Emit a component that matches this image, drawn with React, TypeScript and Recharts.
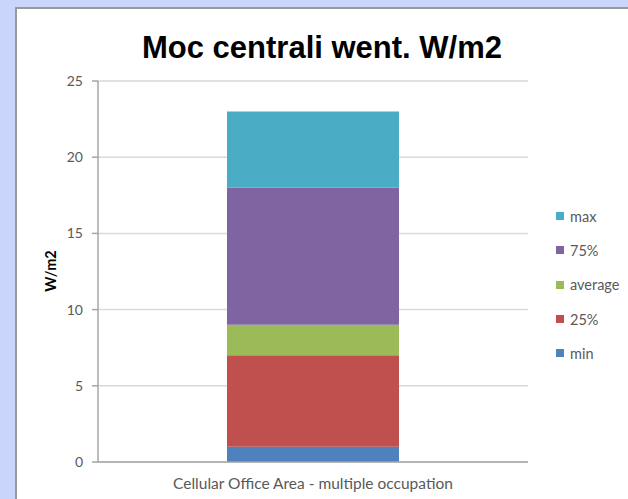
import React from 'react';
import { BarChart, Bar, XAxis, YAxis, CartesianGrid } from 'recharts';

const categories = ['Cellular Office Area - multiple occupation'];
const minValues = [1];
const p25Values = [6];
const averageValues = [2];
const p75Values = [9];
const maxValues = [5];
const yTicks = [0, 5, 10, 15, 20, 25];

const series = [
  { key: 'min', name: 'min', color: '#4F81BD', values: minValues },
  { key: 'p25', name: '25%', color: '#C0504D', values: p25Values },
  { key: 'average', name: 'average', color: '#9BBB59', values: averageValues },
  { key: 'p75', name: '75%', color: '#8064A2', values: p75Values },
  { key: 'max', name: 'max', color: '#4BACC6', values: maxValues },
];

const data = categories.map((c, i) => {
  const row: Record<string, string | number> = { category: c };
  series.forEach((s) => {
    row[s.key] = s.values[i];
  });
  return row;
});

const FONT = 'Lato, "Open Sans", sans-serif';

export default function App() {
  return (
    <div style={{ position: 'absolute', left: 0, top: 0, width: 628, height: 499, background: '#cad5fb', overflow: 'hidden' }}>
      <div
        style={{
          position: 'absolute',
          left: 15,
          top: 7,
          right: 0,
          bottom: 0,
          background: '#ffffff',
          borderLeft: '2px solid #9a9a9a',
          borderTop: '2px solid #9a9a9a',
        }}
      />
      <div
        style={{
          position: 'absolute',
          left: 16,
          width: 612,
          top: 30,
          textAlign: 'center',
          fontFamily: '"Liberation Sans", Arial, sans-serif',
          fontWeight: 'bold',
          fontSize: 31,
          color: '#000',
          lineHeight: '36px',
        }}
      >
        Moc centrali went. W/m2
      </div>
      <div
        style={{
          position: 'absolute',
          left: 50,
          top: 271,
          transform: 'translate(-50%, -50%) rotate(-90deg)',
          fontFamily: FONT,
          fontWeight: 'bold',
          fontSize: 14.5,
          color: '#000',
          whiteSpace: 'nowrap',
        }}
      >
        W/m2
      </div>
      <div style={{ position: 'absolute', left: 0, top: 0 }}>
        <BarChart
          width={628}
          height={499}
          data={data}
          margin={{ top: 81, right: 100, bottom: 0, left: 58 }}
          barCategoryGap="30%"
        >
          <CartesianGrid vertical={false} stroke="#d9d9d9" strokeWidth={1.5} />
          <XAxis
            dataKey="category"
            axisLine={{ stroke: '#a6a6a6', strokeWidth: 1.5 }}
            tickLine={false}
            tickSize={0}
            tickMargin={16}
            tick={{ fontFamily: FONT, fontSize: 15.5, fill: '#595959' }}
            height={37}
          />
          <YAxis
            width={40}
            domain={[0, 25]}
            ticks={yTicks}
            interval={0}
            axisLine={{ stroke: '#a6a6a6', strokeWidth: 1.5 }}
            tickLine={{ stroke: '#a6a6a6', strokeWidth: 1.5 }}
            tickSize={6}
            tickMargin={9}
            tick={{ fontFamily: FONT, fontSize: 14, fill: '#595959' }}
          />
          {series.map((s) => (
            <Bar key={s.key} dataKey={s.key} name={s.name} stackId="a" fill={s.color} isAnimationActive={false} />
          ))}
        </BarChart>
      </div>
      <div
        style={{
          position: 'absolute',
          left: 556,
          top: 199,
          fontFamily: FONT,
          fontSize: 14.5,
          color: '#595959',
        }}
      >
        {[...series].reverse().map((s) => (
          <div key={s.key} style={{ display: 'flex', alignItems: 'center', height: 34.3 }}>
            <span style={{ width: 8, height: 8, background: s.color, display: 'inline-block', marginRight: 6 }} />
            <span>{s.name}</span>
          </div>
        ))}
      </div>
    </div>
  );
}
